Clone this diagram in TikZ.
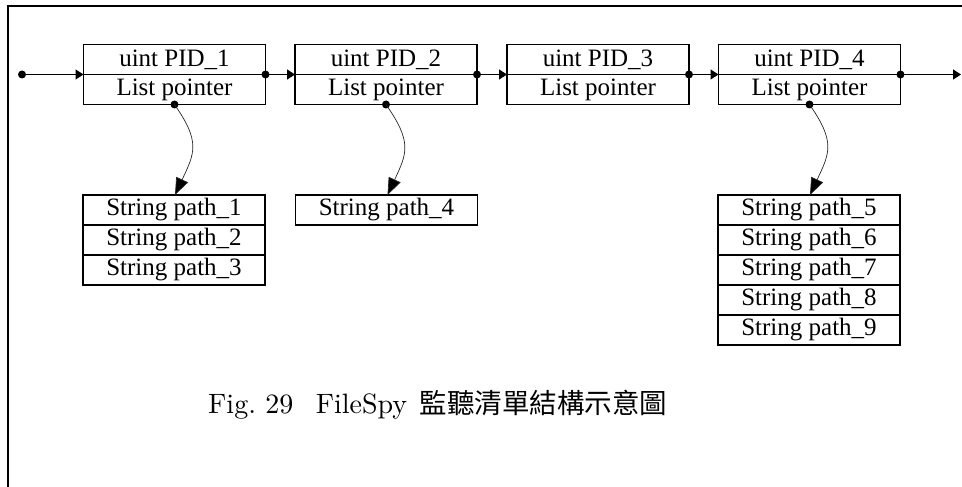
\documentclass[tikz,border=0pt]{standalone}
\usepackage{fontspec}
\newfontfamily\cellfont{Liberation Serif}
\newfontfamily\capfont{lmroman10-regular}[Extension=.otf]
\newfontfamily\cjk{Noto Sans CJK TC}
\usetikzlibrary{arrows.meta}
\tikzset{
  cell/.style={draw, line width=1.2pt, minimum width=182pt, minimum height=30pt,
    inner sep=0pt, outer sep=0pt, font=\cellfont\fontsize{25}{28}\selectfont},
  link/.style={line width=1.3pt, -{Triangle[length=8pt,width=10pt]}},
  ptr/.style={line width=0.7pt, draw=black!85, -{Triangle[length=17pt,width=13pt,fill=black]}},
  dot/.style={fill=black},
  frame/.style={line width=2pt}
}
\begin{document}
\begin{tikzpicture}[x=1pt,y=-1pt]
  \useasboundingbox (0,0) rectangle (962,487);
  % page frame
  \draw[frame] (8,487) -- (8,6) -- (962,6);

  % list nodes
  \foreach \i/\x in {1/174.5, 2/386, 3/598, 4/809.5}{
    \node[cell] (p\i a) at (\x,59.5) {uint PID\_\i};
    \node[cell, anchor=north] (p\i b) at (p\i a.south) {List pointer};
  }

  % path lists
  \node[cell] (s1) at (174,210) {String path\_1};
  \node[cell, anchor=north] (s2) at (s1.south) {String path\_2};
  \node[cell, anchor=north] (s3) at (s2.south) {String path\_3};
  \node[cell] (s4) at (386.5,210) {String path\_4};
  \node[cell] (s5) at (809,210) {String path\_5};
  \node[cell, anchor=north] (s6) at (s5.south) {String path\_6};
  \node[cell, anchor=north] (s7) at (s6.south) {String path\_7};
  \node[cell, anchor=north] (s8) at (s7.south) {String path\_8};
  \node[cell, anchor=north] (s9) at (s8.south) {String path\_9};

  % chain of next pointers
  \coordinate (head) at (22,74.5);
  \coordinate (tail) at (961,74.5);
  \fill[dot] (head) circle (4);
  \draw[link] (head) -- (p1a.south west);
  \foreach \a/\b in {1/2, 2/3, 3/4}{
    \fill[dot] (p\a a.south east) circle (4);
    \draw[link] (p\a a.south east) -- (p\b a.south west);
  }
  \fill[dot] (p4a.south east) circle (4);
  \draw[link] (p4a.south east) -- (tail);

  % list pointers
  \foreach \p/\s in {1/1, 2/4, 4/5}{
    \fill[dot] (p\p b.south) circle (4);
    \draw[ptr] (p\p b.south) to[out=-55, in=65, looseness=1.3] ([xshift=1pt]s\s.north);
  }

  % caption
  \node[anchor=base west, inner sep=0pt] (cap) at (208,413)
    {\capfont\fontsize{28}{30}\selectfont Fig.\ 29\hspace{0.8em}FileSpy\hspace{0.45em}{\cjk\fontsize{27.5}{30}\selectfont 監聽清單結構示意圖}};
\end{tikzpicture}
\end{document}
